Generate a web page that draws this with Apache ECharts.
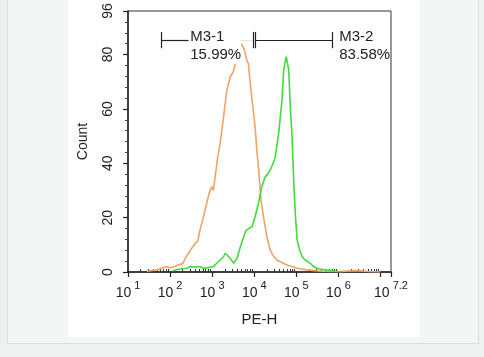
<!DOCTYPE html>
<html>
<head>
<meta charset="utf-8">
<script src="https://cdn.jsdelivr.net/npm/echarts@6/dist/echarts.min.js"></script>
<style>
  html, body { margin: 0; padding: 0; background: #eff0f0; }
  #wrap { position: relative; width: 484px; height: 357px; overflow: hidden; background: #eff0f0; }
  #panel { position: absolute; left: 7px; top: -1px; width: 470px; height: 343px; background: #f4f5f5; border: 1px solid #dcdede; }
  #photo { position: absolute; left: 68px; top: 0; width: 352px; height: 337px; background: #ffffff; }
  #chart { position: absolute; left: 0; top: 0; width: 484px; height: 357px; }
</style>
</head>
<body>
<div id="wrap">
  <div id="panel"></div>
  <div id="photo"></div>
  <div id="chart"></div>
</div>
<script>
// x values are log10(PE-H); y values are counts
const orangeX = [1.45, 1.70, 1.92, 2.00, 2.15, 2.31, 2.36, 2.40, 2.48, 2.55, 2.60, 2.66, 2.71, 2.79, 2.87, 2.93, 2.99, 3.03, 3.07, 3.13, 3.19, 3.27, 3.35, 3.40, 3.43, 3.48, 3.51, 3.55, 3.62, 3.69, 3.76, 3.83, 3.86, 3.90, 3.95, 4.02, 4.06, 4.10, 4.16, 4.22, 4.30, 4.38, 4.45, 4.54, 4.65, 4.78, 4.90, 5.02, 5.15, 5.33, 5.60, 6.00, 6.30, 6.45, 6.70, 7.00];
const orangeY = [0.3, 0.8, 2, 1.5, 2.3, 3.2, 5, 6, 8, 9.5, 10.6, 11.5, 15.4, 20, 25.3, 29, 31.4, 30, 35, 42, 47.4, 57, 67, 70, 71.8, 73, 74, 76.8, 81, 84, 82, 77.5, 76.7, 70, 63, 53.4, 45, 38.7, 26.5, 20.3, 13, 8, 6, 4.4, 3.5, 2.6, 2, 1.4, 1, 0.7, 0.3, 0.2, 0.4, 0.5, 0.2, 0];
const greenX = [2.07, 2.20, 2.40, 2.48, 2.60, 2.71, 2.79, 2.90, 3.03, 3.11, 3.19, 3.27, 3.31, 3.37, 3.43, 3.51, 3.59, 3.67, 3.73, 3.79, 3.87, 3.95, 4.02, 4.10, 4.18, 4.26, 4.32, 4.38, 4.45, 4.50, 4.58, 4.66, 4.70, 4.76, 4.82, 4.86, 4.90, 4.94, 4.98, 5.02, 5.08, 5.14, 5.21, 5.27, 5.33, 5.41, 5.49, 5.60, 5.73, 5.93, 6.10];
const greenY = [0.5, 1, 1.4, 2, 1.8, 2, 1.4, 1.6, 2, 3.2, 4.4, 5.6, 6.9, 6, 5, 3.2, 5, 9.3, 12, 15, 16, 16.7, 20.3, 25.3, 31.4, 35, 36, 37.5, 40, 42.4, 51, 63.3, 74.3, 79.2, 74.3, 59.6, 49.8, 32.6, 20.3, 11.8, 8, 5.6, 4.4, 3.8, 3.2, 2, 1.4, 1, 0.7, 0.3, 0];

const gateNames = ['M3-1', 'M3-2'];
const gatePercents = ['15.99%', '83.58%'];
const gateStart = [1.80, 4.02];
const gateEnd = [3.98, 5.85];
const gateLevel = 85.3;
const gateLabelX = [2.48, 6.02];
const gateLabelY = 83.1;

const xTickValues = [1, 2, 3, 4, 5, 6, 7, 7.25];
const xLabelValues = [1, 2, 3, 4, 5, 6, 7.25];
const xLabelExponents = ['1', '2', '3', '4', '5', '6', '7.2'];
const yMinorTicks = [4, 8, 12, 16, 24, 28, 32, 36, 44, 48, 52, 56, 64, 68, 72, 76, 84, 88, 92];

const xMin = 1, xMax = 7.25;
const xMinor = [];
for (let n = 1; n <= 7; n++) {
  for (let k = 2; k <= 9; k++) {
    const v = n + Math.log10(k);
    if (v < xMax) xMinor.push(v);
  }
}

const orangeData = orangeX.map((x, i) => [x, orangeY[i]]);
const greenData = greenX.map((x, i) => [x, greenY[i]]);

const capH = 3;
const gateLines = [];
for (let i = 0; i < gateNames.length; i++) {
  const s = gateStart[i], e = gateEnd[i];
  if (i === 0) {
    gateLines.push([{ coord: [s, gateLevel] }, { coord: [gateLabelX[0] - 0.04, gateLevel] }]);
    gateLines.push([{ coord: [gateLabelX[0] - 0.04, gateLevel], lineStyle: { color: '#c8c8c8', type: 'dotted', width: 1 } }, { coord: [e, gateLevel] }]);
  } else {
    gateLines.push([{ coord: [s, gateLevel] }, { coord: [e, gateLevel] }]);
  }
  gateLines.push([{ coord: [s, gateLevel - capH] }, { coord: [s, gateLevel + capH] }]);
  gateLines.push([{ coord: [e, gateLevel - capH] }, { coord: [e, gateLevel + capH] }]);
}

const gateLabelPoints = gateNames.map((n, i) => ({
  coord: [gateLabelX[i], gateLabelY],
  label: {
    formatter: n + '\n' + gatePercents[i],
    backgroundColor: i === 0 ? '#ffffff' : 'transparent'
  }
}));

const FONT = '"Liberation Sans", Arial, Helvetica, sans-serif';
const chart = echarts.init(document.getElementById('chart'), null, { renderer: 'canvas' });
chart.setOption({
  animation: false,
  backgroundColor: 'transparent',
  grid: { left: 128, top: 11, right: 93, bottom: 85, show: true, borderColor: '#333', borderWidth: 1, backgroundColor: 'transparent' },
  graphic: [{
    type: 'text', left: 196, top: -12,
    style: { text: '15-0651R-PE-P', fill: '#444', font: '14px ' + FONT }
  }, {
    type: 'text', left: 302, top: -12,
    style: { text: '- -', fill: '#55dd55', font: '14px ' + FONT }
  }],
  xAxis: [{
    type: 'value', min: xMin, max: xMax, interval: 1,
    name: 'PE-H', nameLocation: 'middle', nameGap: 40,
    nameTextStyle: { color: '#222', fontSize: 15, fontFamily: FONT },
    axisLine: { show: true, lineStyle: { color: '#222', width: 1.5 } },
    axisTick: { show: true, length: 5, customValues: xTickValues, lineStyle: { color: '#222', width: 1.2 } },
    splitLine: { show: false },
    axisLabel: {
      customValues: xLabelValues, margin: 8, color: '#222',
      formatter: function (v) {
        const idx = xLabelValues.indexOf(v);
        return '{b|10}{s|' + (idx >= 0 ? xLabelExponents[idx] : '') + '}';
      },
      rich: {
        b: { fontSize: 14, fontFamily: FONT, color: '#222', lineHeight: 20, verticalAlign: 'bottom' },
        s: { fontSize: 11, fontFamily: FONT, color: '#222', lineHeight: 20, verticalAlign: 'top', padding: [0, 0, 0, 3] }
      }
    }
  }, {
    type: 'value', min: xMin, max: xMax, position: 'bottom',
    axisLine: { show: false },
    axisTick: { show: true, inside: true, length: 3, customValues: xMinor, lineStyle: { color: '#333', width: 1 } },
    axisLabel: { show: false },
    splitLine: { show: false }
  }],
  yAxis: [{
    type: 'value', min: 0, max: 96, interval: 20,
    name: 'Count', nameLocation: 'middle', nameGap: 38,
    nameTextStyle: { color: '#222', fontSize: 14, fontFamily: FONT },
    axisLine: { show: true, lineStyle: { color: '#222', width: 1.5 } },
    axisTick: { show: true, length: 5, lineStyle: { color: '#222', width: 1.2 } },
    splitLine: { show: false },
    axisLabel: { rotate: 90, margin: 13, color: '#222', fontSize: 14, fontFamily: FONT }
  }, {
    type: 'value', min: 0, max: 96, position: 'left',
    axisLine: { show: false },
    axisTick: { show: true, length: 3, customValues: yMinorTicks, lineStyle: { color: '#444', width: 1 } },
    axisLabel: { show: false },
    splitLine: { show: false }
  }],
  series: [{
    type: 'line', name: 'control', data: orangeData, showSymbol: false, symbol: 'none',
    lineStyle: { color: '#f2a266', width: 1.6 }, z: 2
  }, {
    type: 'line', name: 'sample', data: greenData, showSymbol: false, symbol: 'none',
    lineStyle: { color: '#3fdc3a', width: 1.6 }, z: 3
  }, {
    type: 'scatter', name: 'gates', data: [], z: 4,
    markLine: {
      silent: true, symbol: ['none', 'none'], animation: false,
      label: { show: false },
      lineStyle: { color: '#222', width: 1.2, type: 'solid' },
      emphasis: { disabled: true },
      data: gateLines
    }
  }, {
    type: 'scatter', name: 'gateLabels', data: [], z: 6,
    markPoint: {
      silent: true, symbol: 'circle', symbolSize: 0, animation: false,
      label: {
        show: true, position: [0, 0], align: 'left', verticalAlign: 'middle',
        color: '#222', fontSize: 15, fontFamily: FONT, lineHeight: 18
      },
      data: gateLabelPoints
    }
  }]
});
</script>
</body>
</html>
